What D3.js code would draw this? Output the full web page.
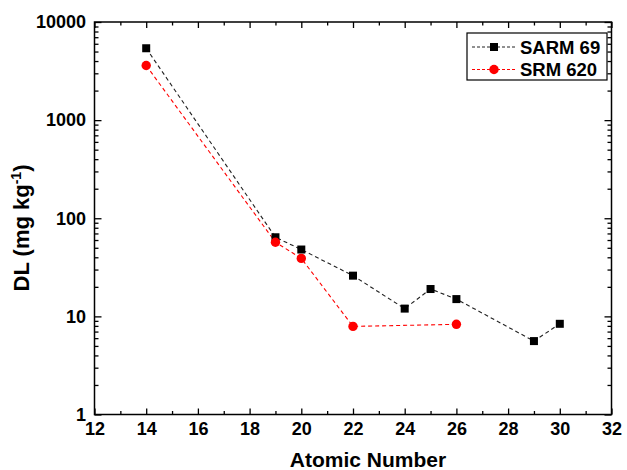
<!DOCTYPE html>
<html>
<head>
<meta charset="utf-8">
<script src="https://cdn.jsdelivr.net/npm/d3@7"></script>
<style>
  html, body { margin: 0; padding: 0; background: #fff; }
  svg { display: block; }
  text { font-family: "Liberation Sans", Arial, Helvetica, sans-serif; font-weight: bold; fill: #000; }
</style>
</head>
<body>
<svg id="chart" width="627" height="470"></svg>
<script>
// ---- data ----
const sarmX = [14, 19, 20, 22, 24, 25, 26, 29, 30];
const sarmY = [5400, 64, 48, 26, 12, 19, 15, 5.6, 8.4];
const srmX = [14, 19, 20, 22, 26];
const srmY = [3600, 57, 39, 7.9, 8.3];
const seriesNames = ["SARM 69", "SRM 620"];
const xTicks = [12, 14, 16, 18, 20, 22, 24, 26, 28, 30, 32];
const xMinor = [13, 15, 17, 19, 21, 23, 25, 27, 29, 31];
const yTicks = [1, 10, 100, 1000, 10000];
const xTitle = "Atomic Number";

// ---- layout ----
const L = 94.5, R = 611.5, T = 22, B = 414.5;
const svg = d3.select("#chart");
const x = d3.scaleLinear().domain([12, 32]).range([L, R]);
const y = d3.scaleLog().domain([1, 10000]).range([B, T]);

const yMinor = [];
[1, 10, 100, 1000].forEach(d => { for (let k = 2; k <= 9; k++) yMinor.push(d * k); });

function styleAxis(g) {
  g.select(".domain").remove();
  g.selectAll(".tick line").attr("stroke", "#000").attr("stroke-width", 1.3);
  g.selectAll("text").style("font-size", "18px").style("font-family", '"Liberation Sans", Arial, sans-serif').style("font-weight", "bold");
}

// bottom axis
svg.append("g").attr("transform", `translate(0,${B})`)
  .call(d3.axisBottom(x).tickValues(xTicks).tickSize(-6).tickPadding(8).tickFormat(d3.format("d")))
  .call(styleAxis);
svg.append("g").attr("transform", `translate(0,${B})`)
  .call(d3.axisBottom(x).tickValues(xMinor).tickSize(-3.5).tickFormat(""))
  .call(styleAxis);
// top axis
svg.append("g").attr("transform", `translate(0,${T})`)
  .call(d3.axisTop(x).tickValues(xTicks).tickSize(-6).tickFormat(""))
  .call(styleAxis);
svg.append("g").attr("transform", `translate(0,${T})`)
  .call(d3.axisTop(x).tickValues(xMinor).tickSize(-3.5).tickFormat(""))
  .call(styleAxis);
// left axis
svg.append("g").attr("transform", `translate(${L},0)`)
  .call(d3.axisLeft(y).tickValues(yTicks).tickSize(-7).tickPadding(8.5).tickFormat(d3.format("d")))
  .call(styleAxis);
svg.append("g").attr("transform", `translate(${L},0)`)
  .call(d3.axisLeft(y).tickValues(yMinor).tickSize(-4).tickFormat(""))
  .call(styleAxis);
// right axis
svg.append("g").attr("transform", `translate(${R},0)`)
  .call(d3.axisRight(y).tickValues(yTicks).tickSize(-7).tickFormat(""))
  .call(styleAxis);
svg.append("g").attr("transform", `translate(${R},0)`)
  .call(d3.axisRight(y).tickValues(yMinor).tickSize(-4).tickFormat(""))
  .call(styleAxis);

// frame
svg.append("rect").attr("x", L).attr("y", T).attr("width", R - L).attr("height", B - T)
  .attr("fill", "none").attr("stroke", "#000").attr("stroke-width", 1.5);

// axis titles
svg.append("text").attr("x", 368).attr("y", 467)
  .attr("text-anchor", "middle").style("font-size", "21px").text(xTitle);
const yt = svg.append("text").attr("transform", "translate(29,228) rotate(-90)")
  .attr("text-anchor", "middle").style("font-size", "22px");
yt.append("tspan").text("DL (mg kg");
yt.append("tspan").attr("dy", -8).style("font-size", "14px").text("-1");
yt.append("tspan").attr("dy", 8).text(")");

// series
const line = d3.line().x(d => x(d[0])).y(d => y(d[1]));
const sarm = sarmX.map((v, i) => [v, sarmY[i]]);
const srm = srmX.map((v, i) => [v, srmY[i]]);

svg.append("path").datum(sarm).attr("d", line).attr("fill", "none")
  .attr("stroke", "#222").attr("stroke-width", 1.1).attr("stroke-dasharray", "4,3");
svg.append("path").datum(srm).attr("d", line).attr("fill", "none")
  .attr("stroke", "#ff0000").attr("stroke-width", 1.1).attr("stroke-dasharray", "4,3");

svg.append("g").selectAll("rect").data(sarm).join("rect")
  .attr("x", d => x(d[0]) - 4).attr("y", d => y(d[1]) - 4)
  .attr("width", 8).attr("height", 8).attr("fill", "#000");
svg.append("g").selectAll("circle").data(srm).join("circle")
  .attr("cx", d => x(d[0])).attr("cy", d => y(d[1])).attr("r", 4.7).attr("fill", "#ff0000");

// legend
const lg = svg.append("g");
lg.append("rect").attr("x", 467).attr("y", 33).attr("width", 140).attr("height", 47)
  .attr("fill", "#fff").attr("stroke", "#000").attr("stroke-width", 1.2);
const ly = [47, 69.5];
lg.append("line").attr("x1", 472).attr("x2", 515).attr("y1", ly[0]).attr("y2", ly[0])
  .attr("stroke", "#222").attr("stroke-width", 1).attr("stroke-dasharray", "3,2");
lg.append("rect").attr("x", 490).attr("y", ly[0] - 4).attr("width", 8).attr("height", 8).attr("fill", "#000");
lg.append("line").attr("x1", 472).attr("x2", 515).attr("y1", ly[1]).attr("y2", ly[1])
  .attr("stroke", "#ff0000").attr("stroke-width", 1).attr("stroke-dasharray", "3,2");
lg.append("circle").attr("cx", 494).attr("cy", ly[1]).attr("r", 4.7).attr("fill", "#ff0000");
seriesNames.forEach((n, i) => {
  lg.append("text").attr("x", 520).attr("y", ly[i] + 6.6).style("font-size", "18.5px").text(n);
});
</script>
</body>
</html>
